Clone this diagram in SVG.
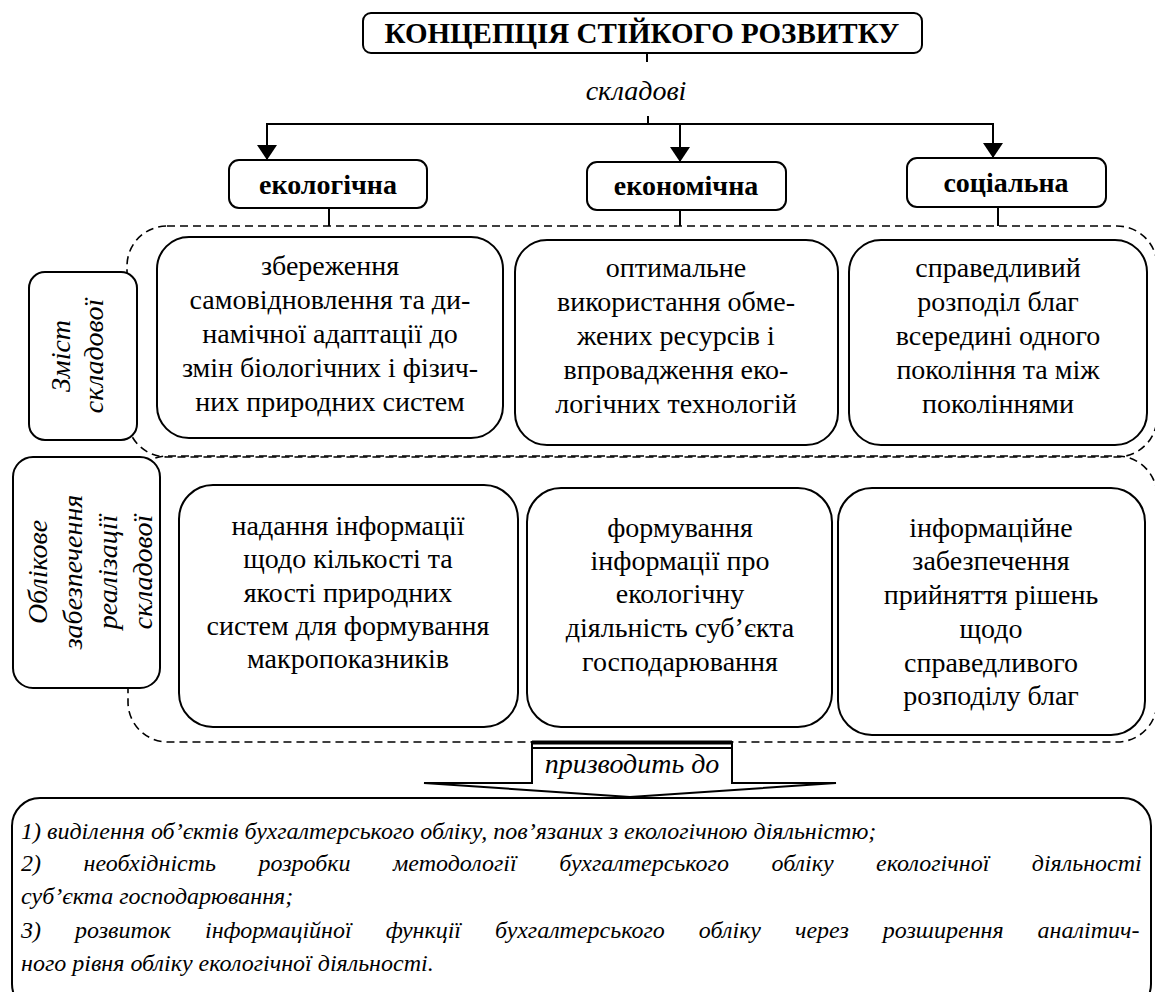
<svg xmlns="http://www.w3.org/2000/svg" width="1155" height="992" viewBox="0 0 1155 992" font-family="Liberation Serif, Times New Roman, serif">
<defs>
<style>
.box{fill:#fff;stroke:#000;stroke-width:2}
.dash{fill:none;stroke:#000;stroke-width:1.6;stroke-dasharray:8 5}
.ln{fill:none;stroke:#000;stroke-width:2}
text{font-family:Liberation Serif, Times New Roman, serif}
.t{font-size:28px;fill:#000;text-anchor:middle}
.tt{font-size:29px}
.b{font-weight:bold}
.i{font-style:italic}
.bt{font-size:24px;font-style:italic;fill:#000}
</style>
<marker id="ah" viewBox="0 0 15 20" refX="15" refY="10" markerWidth="15" markerHeight="20" markerUnits="userSpaceOnUse" orient="auto">
<path d="M0,0 L15,10 L0,20 z" fill="#000"/>
</marker>
</defs>
<rect width="1155" height="992" fill="#fff"/>

<g id="regions">
<rect id="region-content" class="dash" x="127" y="226" width="1030" height="231" rx="40"/>
<rect id="region-accounting" class="dash" x="128" y="456" width="1029" height="286" rx="40"/>
</g>

<g id="connectors">
<line class="ln" x1="647" y1="53" x2="647" y2="62"/>
<line class="ln" x1="648" y1="116" x2="648" y2="124"/>
<line class="ln" x1="266" y1="124" x2="994" y2="124"/>
<line class="ln" x1="267" y1="124" x2="267" y2="160" marker-end="url(#ah)"/>
<line class="ln" x1="680" y1="124" x2="680" y2="162" marker-end="url(#ah)"/>
<line class="ln" x1="993" y1="124" x2="993" y2="158" marker-end="url(#ah)"/>
<line class="ln" x1="329" y1="208" x2="329" y2="226"/>
<line class="ln" x1="680" y1="210" x2="680" y2="226"/>
<line class="ln" x1="998" y1="207" x2="998" y2="226"/>
</g>

<g id="title">
<rect class="box" x="363" y="13" width="559" height="40" rx="8"/>
<text class="t tt b" x="642" y="43">КОНЦЕПЦІЯ СТІЙКОГО РОЗВИТКУ</text>
</g>
<g id="label-skladovi">
<text class="t i" x="636" y="100">складові</text>
</g>

<g id="h-eco">
<rect class="box" x="229" y="160" width="198" height="48" rx="10"/>
<text class="t b" x="328" y="194">екологічна</text>
</g>
<g id="h-econ">
<rect class="box" x="587" y="162" width="199" height="48" rx="10"/>
<text class="t b" x="686" y="195">економічна</text>
</g>
<g id="h-soc">
<rect class="box" x="907" y="158" width="199" height="49" rx="10"/>
<text class="t b" x="1006" y="192">соціальна</text>
</g>

<g id="lbl-zmist">
<rect class="box" x="29" y="272" width="108" height="168" rx="16"/>
<g transform="translate(83,356) rotate(-90)">
<text class="t i" x="0" y="-13">Зміст</text>
<text class="t i" x="0" y="20">складової</text>
</g>
</g>
<g id="lbl-oblik">
<rect class="box" x="13" y="457" width="147" height="231" rx="20"/>
<g transform="translate(86,572) rotate(-90)">
<text class="t i" x="0" y="-39">Облікове</text>
<text class="t i" x="0" y="-4">забезпечення</text>
<text class="t i" x="0" y="31">реалізації</text>
<text class="t i" x="0" y="66">складової</text>
</g>
</g>

<g id="c-eco">
<rect class="box" x="157" y="237" width="346" height="201" rx="32"/>
<text class="t" x="330" y="275">збереження</text>
<text class="t" x="330" y="309">самовідновлення та ди-</text>
<text class="t" x="330" y="343">намічної адаптації до</text>
<text class="t" x="330" y="377">змін біологічних і фізич-</text>
<text class="t" x="330" y="411">них природних систем</text>
</g>
<g id="c-econ">
<rect class="box" x="515" y="240" width="323" height="205" rx="32"/>
<text class="t" x="676" y="277">оптимальне</text>
<text class="t" x="676" y="311">використання обме-</text>
<text class="t" x="676" y="345">жених ресурсів і</text>
<text class="t" x="676" y="379">впровадження еко-</text>
<text class="t" x="676" y="413">логічних технологій</text>
</g>
<g id="c-soc">
<rect class="box" x="849" y="240" width="298" height="205" rx="32"/>
<text class="t" x="998" y="277">справедливий</text>
<text class="t" x="998" y="311">розподіл благ</text>
<text class="t" x="998" y="345">всередині одного</text>
<text class="t" x="998" y="379">покоління та між</text>
<text class="t" x="998" y="413">поколіннями</text>
</g>

<g id="a-eco">
<rect class="box" x="179" y="485" width="339" height="242" rx="34"/>
<text class="t" x="348" y="535">надання інформації</text>
<text class="t" x="348" y="568">щодо кількості та</text>
<text class="t" x="348" y="602">якості природних</text>
<text class="t" x="348" y="635">систем для формування</text>
<text class="t" x="348" y="668">макропоказників</text>
</g>
<g id="a-econ">
<rect class="box" x="527" y="488" width="305" height="239" rx="34"/>
<text class="t" x="680" y="537">формування</text>
<text class="t" x="680" y="570">інформації про</text>
<text class="t" x="680" y="603">екологічну</text>
<text class="t" x="680" y="637">діяльність суб’єкта</text>
<text class="t" x="680" y="671">господарювання</text>
</g>
<g id="a-soc">
<rect class="box" x="838" y="488" width="307" height="247" rx="34"/>
<text class="t" x="991" y="537">інформаційне</text>
<text class="t" x="991" y="570">забезпечення</text>
<text class="t" x="991" y="604">прийняття рішень</text>
<text class="t" x="991" y="638">щодо</text>
<text class="t" x="991" y="672">справедливого</text>
<text class="t" x="991" y="705">розподілу благ</text>
</g>

<g id="result">
<rect class="box" x="12" y="798" width="1139" height="214" rx="28"/>
<text class="bt" x="21" y="839">1) виділення об’єктів бухгалтерського обліку, пов’язаних з екологічною діяльністю;</text>
<text class="bt" x="21" y="871" word-spacing="36.5">2) необхідність розробки методології бухгалтерського обліку екологічної діяльності</text>
<text class="bt" x="21" y="904">суб’єкта господарювання;</text>
<text class="bt" x="21" y="938" word-spacing="28">3) розвиток інформаційної функції бухгалтерського обліку через розширення аналітич-</text>
<text class="bt" x="21" y="971">ного рівня обліку екологічної діяльності.</text>
</g>

<g id="leads-to">
<path d="M532,742 L532,783 L424,783 L630,797 L836,783 L732,783 L732,742 Z" fill="#fff" stroke="none"/>
<line x1="532" y1="742.5" x2="732" y2="742.5" stroke="#000" stroke-width="4"/>
<line x1="532" y1="748" x2="732" y2="748" stroke="#000" stroke-width="2"/>
<path class="ln" d="M532,741 L532,783 L424,783 L630,797 L836,783 L732,783 L732,741"/>
<text class="t i" x="632" y="773">призводить до</text>
</g>
</svg>
